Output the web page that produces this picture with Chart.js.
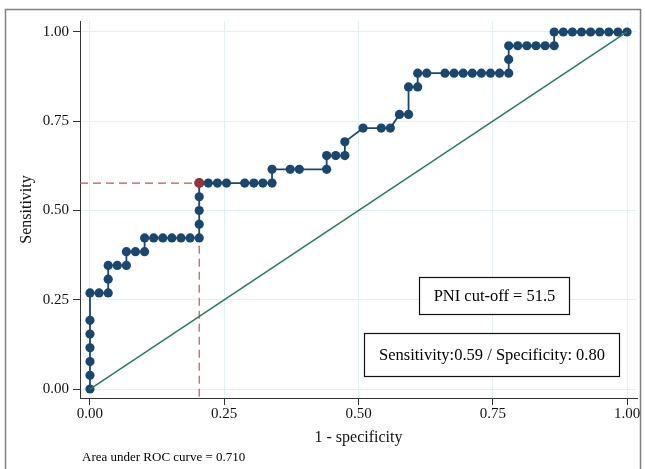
<!DOCTYPE html>
<html><head><meta charset="utf-8">
<script src="https://cdn.jsdelivr.net/npm/chart.js@4.4.1/dist/chart.umd.min.js"></script>
<style>html,body{margin:0;padding:0;background:#fff}canvas{display:block}</style>
</head><body>
<canvas id="c" width="645" height="469" style="width:645px;height:469px"></canvas>
<script>
// ROC curve points: 1 - specificity (x) and sensitivity (y)
const fpr = [0,0,0,0,0,0,0,
  0.0169,0.0339,0.0339,0.0339,0.0508,0.0678,0.0678,0.0847,0.1017,0.1017,
  0.1186,0.1356,0.1525,0.1695,0.1864,0.2034,
  0.2034,0.2034,0.2034,0.2034,
  0.2203,0.2373,0.2542,0.2881,0.3051,0.3220,0.3390,
  0.3390,0.3729,0.3898,0.4407,
  0.4407,0.4576,0.4746,
  0.4746,0.5085,0.5424,0.5593,0.5763,0.5932,0.5932,0.6102,0.6102,0.6271,0.6610,0.6780,0.6949,0.7119,0.7288,0.7458,0.7627,0.7797,
  0.7797,0.7797,0.7966,0.8136,0.8305,0.8475,0.8644,
  0.8644,0.8814,0.8983,0.9153,0.9322,0.9492,0.9661,0.9831,1];
const sensitivity = [0,0.0385,0.0769,0.1154,0.1538,0.1923,0.2692,
  0.2692,0.2692,0.3077,0.3462,0.3462,0.3462,0.3846,0.3846,0.3846,0.4231,
  0.4231,0.4231,0.4231,0.4231,0.4231,0.4231,
  0.4615,0.5,0.5385,0.5769,
  0.5769,0.5769,0.5769,0.5769,0.5769,0.5769,0.5769,
  0.6154,0.6154,0.6154,0.6154,
  0.6538,0.6538,0.6538,
  0.6923,0.7308,0.7308,0.7308,0.7692,0.7692,0.8462,0.8462,0.8846,0.8846,0.8846,0.8846,0.8846,0.8846,0.8846,0.8846,0.8846,0.8846,
  0.9231,0.9615,0.9615,0.9615,0.9615,0.9615,0.9615,
  1,1,1,1,1,1,1,1,1];
const cutoffFpr = 0.2034;
const cutoffSens = 0.5769;
const diagonalX = [0, 1];
const diagonalY = [0, 1];
const xTicks = [0, 0.25, 0.5, 0.75, 1];
const yTicks = [0, 0.25, 0.5, 0.75, 1];
const X_MIN = -0.0186, X_MAX = 1.0186, Y_MIN = -0.0252, Y_MAX = 1.0308;
const xTitle = '1 - specificity';
const yTitle = 'Sensitivity';
const boxText1 = 'PNI cut-off = 51.5';
const boxText2 = 'Sensitivity:0.59 / Specificity: 0.80';
const aucNote = 'Area under ROC curve = 0.710';

const SERIF = '"Liberation Serif", "Times New Roman", serif';
const NAVY = '#1a476f', MAROON = '#90353b', GREEN = '#2a7a5c', DASH = '#b9585c';

const rocData = fpr.map((x, i) => ({x, y: sensitivity[i]}));
const diagData = diagonalX.map((x, i) => ({x, y: diagonalY[i]}));
const dashData = [{x: X_MIN, y: cutoffSens}, {x: cutoffFpr, y: cutoffSens}, {x: cutoffFpr, y: Y_MIN}];

const decor = {
  id: 'decor',
  beforeDraw(chart) {
    const c = chart.ctx;
    c.save();
    c.fillStyle = '#fff';
    c.fillRect(0, 0, chart.width, chart.height);
    c.strokeStyle = '#808080';
    c.lineWidth = 1.5;
    c.strokeRect(5.5, 9.5, 635, 470);
    c.restore();
  },
  afterDraw(chart) {
    const c = chart.ctx;
    c.save();
    c.fillStyle = '#000';
    c.strokeStyle = '#111';
    c.lineWidth = 1.2;
    c.textAlign = 'center';
    c.textBaseline = 'middle';
    c.font = '16.5px ' + SERIF;
    c.fillStyle = '#fff';
    c.fillRect(419.5, 277.5, 150, 37);
    c.strokeRect(419.5, 277.5, 150, 37);
    c.fillRect(364.5, 333.5, 255, 43);
    c.strokeRect(364.5, 333.5, 255, 43);
    c.fillStyle = '#000';
    c.fillText(boxText1, 494.5, 296.5);
    c.fillText(boxText2, 492, 355.5);
    c.textAlign = 'left';
    c.font = '13px ' + SERIF;
    c.fillText(aucNote, 82, 458);
    c.restore();
  }
};

new Chart(document.getElementById('c'), {
  type: 'scatter',
  data: {
    datasets: [
      {data: [{x: cutoffFpr, y: cutoffSens}], backgroundColor: MAROON, borderColor: MAROON, pointRadius: 5, pointBorderWidth: 0},
      {data: diagData, showLine: true, borderColor: GREEN, borderWidth: 1.5, pointRadius: 0},
      {data: rocData, showLine: true, borderColor: NAVY, backgroundColor: NAVY, borderWidth: 1.8, pointRadius: 4.6, pointBorderWidth: 0},
      {data: dashData, showLine: true, borderColor: DASH, borderWidth: 1.2, borderDash: [8, 5], pointRadius: 0}
    ]
  },
  options: {
    responsive: false,
    animation: false,
    events: [],
    layout: {padding: {top: 21, right: 8, left: 0, bottom: 0}},
    plugins: {legend: {display: false}, tooltip: {enabled: false}},
    scales: {
      x: {
        type: 'linear', min: X_MIN, max: X_MAX,
        afterBuildTicks(s) { s.ticks = xTicks.map(v => ({value: v})); },
        afterFit(s) { s.height = 71; },
        ticks: {font: {family: SERIF, size: 15}, color: '#111', padding: 0, maxRotation: 0,
          callback: v => Number(v).toFixed(2)},
        grid: {color: '#e1eef2', lineWidth: 1, tickLength: 7, tickColor: '#333', tickWidth: 1},
        border: {display: true, color: '#333', width: 1},
        title: {display: true, text: xTitle, font: {family: SERIF, size: 16}, color: '#111', padding: {top: 0, bottom: 22}}
      },
      y: {
        type: 'linear', min: Y_MIN, max: Y_MAX,
        afterBuildTicks(s) { s.ticks = yTicks.map(v => ({value: v})); },
        afterFit(s) { s.width = 80; },
        ticks: {font: {family: SERIF, size: 15}, color: '#111', padding: 4,
          callback: v => Number(v).toFixed(2)},
        grid: {color: '#e1eef2', lineWidth: 1, tickLength: 7, tickColor: '#333', tickWidth: 1},
        border: {display: true, color: '#333', width: 1},
        title: {display: true, text: yTitle, font: {family: SERIF, size: 16}, color: '#111', padding: {top: 17, bottom: 0}}
      }
    }
  },
  plugins: [decor]
});
</script>
</body></html>
